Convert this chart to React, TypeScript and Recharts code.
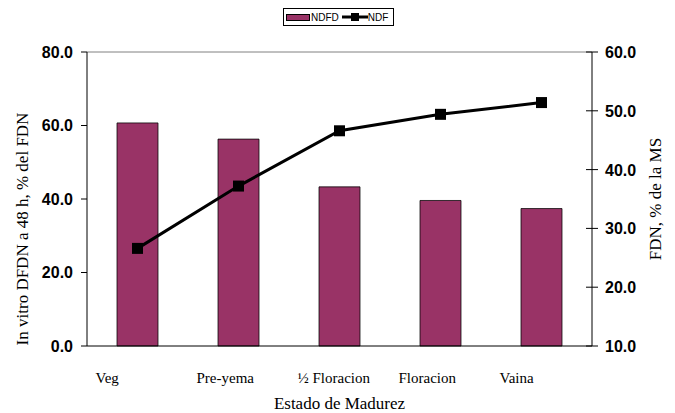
import {
  ComposedChart,
  Bar,
  Line,
  XAxis,
  YAxis,
  ReferenceLine,
} from 'recharts'

// Maturity stages (x categories)
const STAGES = ['Veg', 'Pre-yema', '½ Floracion', 'Floracion', 'Vaina']
// In vitro NDFD at 48 h, % of NDF (left axis)
const NDFD = [60.7, 56.3, 43.3, 39.6, 37.4]
// NDF, % of DM (right axis)
const NDF = [26.6, 37.2, 46.6, 49.4, 51.4]

const LEFT_TICKS = [0, 20, 40, 60, 80]
const RIGHT_TICKS = [10, 20, 30, 40, 50, 60]
const BOUNDARY_TICKS = [0, 1, 2, 3, 4, 5]

const data = STAGES.map((stage, i) => ({ stage, ndfd: NDFD[i], ndf: NDF[i] }))

const BAR_COLOR = '#993366'
const SANS = 'Arial, "Liberation Sans", sans-serif'
const SERIF = '"Times New Roman", "Liberation Serif", serif'

const valueTick = { fontSize: 16, fontWeight: 700, fill: '#000', fontFamily: SANS }

function StageTick({ x, y, payload }: any) {
  return (
    <text
      x={x - 42}
      y={y}
      dy={29}
      textAnchor="start"
      fontFamily={SERIF}
      fontSize={15}
      fill="#000"
    >
      {payload.value}
    </text>
  )
}

// right axis ticks cross the axis line, so draw the inner half here
function RightTick({ x, y, payload }: any) {
  const axisX = x - 13
  return (
    <g>
      <line x1={axisX - 6} y1={y} x2={axisX} y2={y} stroke="#000" />
      <text x={x} y={y} dy={6} textAnchor="start" {...valueTick}>
        {payload.value.toFixed(1)}
      </text>
    </g>
  )
}

function SquareDot({ cx, cy, index }: any) {
  return <rect key={`dot-${index}`} x={cx - 5.5} y={cy - 5.5} width={11} height={11} fill="#000" />
}

function verticalTitle(value: string, dx: number, dy: number) {
  return (props: any) => {
    const vb = props.viewBox
    const cx = vb.x + vb.width / 2 + dx
    const cy = vb.y + vb.height / 2 + dy
    return (
      <text
        x={cx}
        y={cy}
        transform={`rotate(-90, ${cx}, ${cy})`}
        textAnchor="middle"
        dominantBaseline="central"
        fontFamily={SERIF}
        fontSize={17}
        fill="#000"
      >
        {value}
      </text>
    )
  }
}

export default function App() {
  return (
    <div style={{ position: 'absolute', left: 0, top: 0, width: 675, height: 413, background: '#fff' }}>
      {/* Legend box */}
      <div
        style={{
          position: 'absolute',
          left: 283,
          top: 8,
          height: 16,
          border: '1px solid #000',
          display: 'flex',
          alignItems: 'center',
          padding: '0 5px 0 2px',
          fontFamily: SANS,
          fontSize: 10,
          background: '#fff',
        }}
      >
        <span style={{ display: 'inline-block', width: 24, height: 7, background: BAR_COLOR, border: '1px solid #000', boxSizing: 'border-box' }} />
        <span style={{ marginLeft: 1 }}>NDFD</span>
        <svg width={26} height={12} style={{ margin: '0 0 0 3px' }}>
          <line x1={0} y1={6} x2={26} y2={6} stroke="#000" strokeWidth={3} />
          <rect x={9} y={2} width={8} height={8} fill="#000" />
        </svg>
        <span>NDF</span>
      </div>

      <ComposedChart
        width={675}
        height={413}
        data={data}
        margin={{ top: 52, right: 0, left: 0, bottom: 0 }}
      >
        <XAxis
          dataKey="stage"
          height={67}
          tick={<StageTick />}
          tickLine={false}
          axisLine={{ stroke: '#000' }}
          label={{
            value: 'Estado de Madurez',
            position: 'insideBottom',
            offset: 4,
            fontFamily: SERIF,
            fontSize: 17,
            fill: '#000',
          }}
        />
        <XAxis
          xAxisId="bounds"
          type="number"
          domain={[0, 5]}
          ticks={BOUNDARY_TICKS}
          height={0}
          tick={() => <g />}
          tickSize={4}
          tickLine={{ stroke: '#000' }}
          axisLine={{ stroke: '#000' }}
          allowDataOverflow
        />
        <YAxis
          yAxisId="left"
          width={87}
          domain={[0, 80]}
          ticks={LEFT_TICKS}
          tickFormatter={(v: number) => v.toFixed(1)}
          tick={valueTick}
          tickSize={6}
          tickMargin={8}
          axisLine={{ stroke: '#000' }}
          tickLine={{ stroke: '#000' }}
          label={verticalTitle('In vitro DFDN a 48 h, % del FDN', -21.5, 30)}
        />
        <YAxis
          yAxisId="right"
          orientation="right"
          width={83}
          domain={[10, 60]}
          ticks={RIGHT_TICKS}
          tick={<RightTick />}
          tickSize={6}
          tickMargin={7}
          axisLine={{ stroke: '#000' }}
          tickLine={{ stroke: '#000' }}
          label={verticalTitle('FDN, % de la MS', 21.5, 0)}
        />
        <ReferenceLine yAxisId="left" y={80} stroke="#808080" />
        <Bar
          yAxisId="left"
          dataKey="ndfd"
          name="NDFD"
          barSize={41}
          fill={BAR_COLOR}
          stroke="#000"
          strokeWidth={0.75}
          isAnimationActive={false}
        />
        <Line
          yAxisId="right"
          dataKey="ndf"
          name="NDF"
          type="linear"
          stroke="#000"
          strokeWidth={3}
          dot={<SquareDot />}
          activeDot={false}
          isAnimationActive={false}
        />
      </ComposedChart>
    </div>
  )
}
